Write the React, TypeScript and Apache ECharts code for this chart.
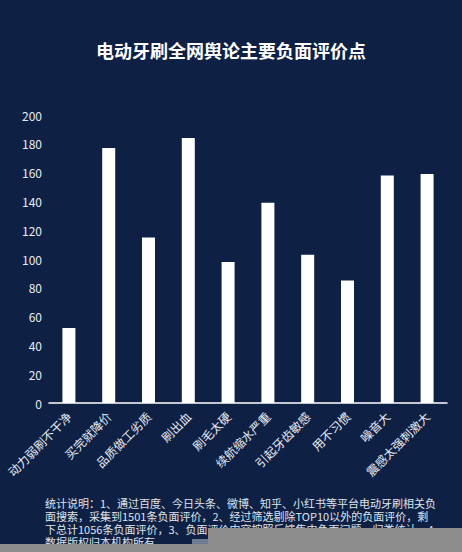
import { useEffect, useRef } from 'react';
import * as echarts from 'echarts';

const categories = [
  '动力弱刷不干净',
  '买完就降价',
  '品质做工劣质',
  '刷出血',
  '刷毛太硬',
  '续航缩水严重',
  '引起牙齿敏感',
  '用不习惯',
  '噪音大',
  '震感太强刺激大',
];
const counts = [52, 177, 115, 184, 98, 139, 103, 85, 158, 159];

const titleText = '电动牙刷全网舆论主要负面评价点';
const noteLines = [
  '统计说明：1、通过百度、今日头条、微博、知乎、小红书等平台电动牙刷相关负',
  '面搜索，采集到1501条负面评价，2、经过筛选剔除TOP10以外的负面评价，剩',
  '下总计1056条负面评价，3、负面评价内容按照反馈集中负面问题，归类统计，4、',
  '数据版权归本机构所有',
];

const FONT = '"Noto Sans CJK SC", "Noto Sans", sans-serif';

export default function App() {
  const chartRef = useRef<HTMLDivElement | null>(null);

  useEffect(() => {
    document.body.style.margin = '0';
    if (!chartRef.current) return;
    const chart = echarts.init(chartRef.current, null, { renderer: 'svg' });

    // footnote: one text element per line so the lines keep a fixed pitch
    const notes = noteLines.map((line, i) => ({
      type: 'text',
      left: 45,
      top: 497 + i * 13,
      z: 10,
      style: {
        text: line,
        fill: '#dfe4ec',
        font: `11px ${FONT}`,
      },
    }));

    chart.setOption({
      animation: false,
      backgroundColor: '#0f2045',
      textStyle: { fontFamily: FONT },
      title: {
        text: titleText,
        left: 'center',
        top: 36,
        textStyle: { color: '#ffffff', fontSize: 18, fontWeight: 'bold', fontFamily: FONT },
      },
      grid: { left: 49, right: 15, top: 115, bottom: 149 },
      xAxis: {
        type: 'category',
        data: categories,
        axisLine: { lineStyle: { color: '#ffffff', width: 1.5 } },
        axisTick: { show: false },
        axisLabel: {
          interval: 0,
          rotate: 45,
          color: '#e8ecf2',
          fontSize: 12,
          margin: 11,
          fontFamily: FONT,
        },
      },
      yAxis: {
        type: 'value',
        min: 0,
        max: 200,
        interval: 20,
        axisLine: { show: false },
        axisTick: { show: false },
        splitLine: { show: false },
        axisLabel: { color: '#e8ecf2', fontSize: 12, margin: 7, fontFamily: FONT },
      },
      series: [
        {
          type: 'bar',
          data: counts,
          barWidth: 13,
          itemStyle: { color: '#ffffff' },
        },
      ],
      graphic: [
        ...notes,
        {
          type: 'rect',
          z: 20,
          shape: { x: 208, y: 528, width: 254, height: 16 },
          style: { fill: '#8c8c8c' },
        },
        {
          type: 'rect',
          z: 20,
          shape: { x: 192, y: 539, width: 16, height: 5 },
          style: { fill: '#6f7d92' },
        },
        {
          type: 'rect',
          z: 20,
          shape: { x: 0, y: 544, width: 462, height: 8 },
          style: { fill: '#8c8c8c' },
        },
      ],
    });

    return () => {
      chart.dispose();
    };
  }, []);

  return <div ref={chartRef} style={{ width: 462, height: 552 }} />;
}
